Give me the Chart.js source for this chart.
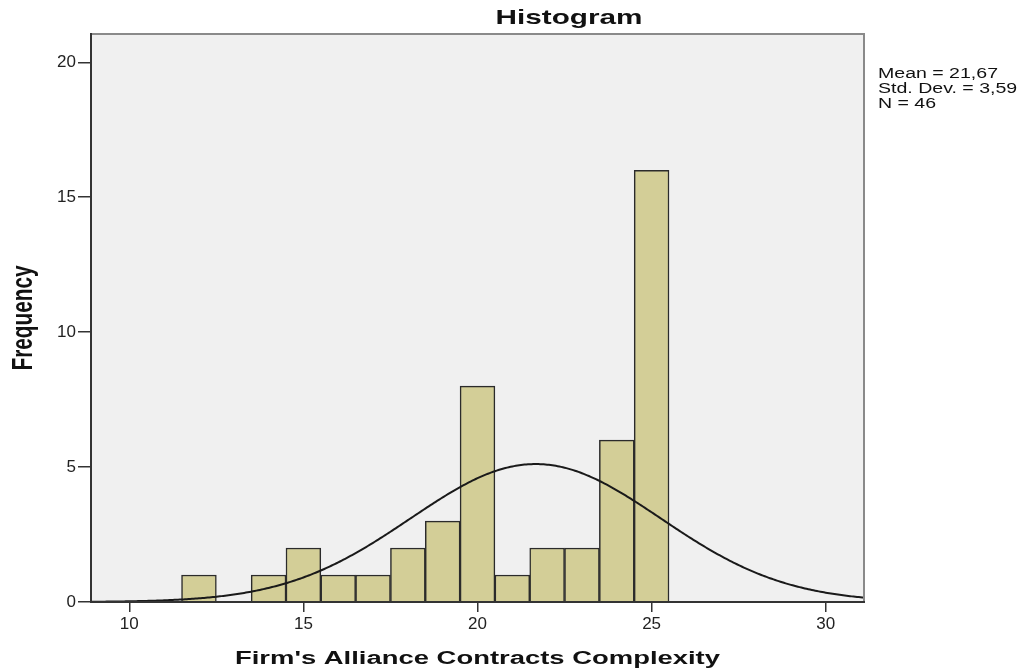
<!DOCTYPE html>
<html>
<head>
<meta charset="utf-8">
<title>Histogram</title>
<script src="https://cdn.jsdelivr.net/npm/chart.js@4.4.1/dist/chart.umd.min.js"></script>
<style>
  html, body { margin: 0; padding: 0; background: #ffffff; }
  #wrap { width: 1024px; height: 671px; }
</style>
</head>
<body>
<div id="wrap"><canvas id="hist" width="1024" height="671"></canvas></div>
<script>
// Histogram bins (bin width 1) and observed frequencies
const BIN_CENTERS = [12, 14, 15, 16, 17, 18, 19, 20, 21, 22, 23, 24, 25];
const FREQUENCIES = [1, 1, 2, 1, 1, 2, 3, 8, 1, 2, 2, 6, 16];
const BIN_WIDTH = 1;

// Axis ticks
const X_TICKS = [10, 15, 20, 25, 30];
const Y_TICKS = [0, 5, 10, 15, 20];

// Summary statistics printed beside the plot
const MEAN = 21.67;
const STD_DEV = 3.59;
const N = 46;
const STAT_LINES = ['Mean = 21,67', 'Std. Dev. = 3,59', 'N = 46'];

const TITLE = 'Histogram';
const X_TITLE = "Firm's Alliance Contracts Complexity";
const Y_TITLE = 'Frequency';

// Axis ranges
const X_MIN = 8.9, X_MAX = 31.1;
const Y_MIN = 0, Y_MAX = 21.05;

// Fitted normal curve, scaled to counts per bin
const curvePoints = [];
for (let x = X_MIN; x <= X_MAX + 1e-9; x += 0.05) {
  const z = (x - MEAN) / STD_DEV;
  const y = N * BIN_WIDTH * Math.exp(-0.5 * z * z) / (STD_DEV * Math.sqrt(2 * Math.PI));
  curvePoints.push({ x: x, y: y });
}
const barPoints = BIN_CENTERS.map((c, i) => ({ x: c, y: FREQUENCIES[i] }));

const FONT = '"Liberation Sans", Arial, Helvetica, sans-serif';
const STRETCH = 1.4;

// Draw text horizontally stretched so it spans the given width
function fitText(ctx, text, font, x, y, width, align) {
  ctx.save();
  ctx.font = font;
  const w = ctx.measureText(text).width;
  const sx = width / w;
  ctx.translate(x, y);
  ctx.scale(sx, 1);
  ctx.textAlign = align;
  ctx.textBaseline = 'alphabetic';
  ctx.fillText(text, 0, 0);
  ctx.restore();
}

const frame = {
  id: 'frame',
  beforeDraw(chart) {
    const { ctx, chartArea: a } = chart;
    ctx.save();
    ctx.fillStyle = '#f0f0f0';
    ctx.fillRect(a.left, a.top, a.right - a.left, a.bottom - a.top);
    ctx.restore();
  },
  afterDraw(chart) {
    const { ctx, chartArea: a } = chart;
    ctx.save();
    // plot frame
    ctx.strokeStyle = '#8a8a8a';
    ctx.lineWidth = 2;
    ctx.beginPath();
    ctx.moveTo(a.left, a.top);
    ctx.lineTo(a.right, a.top);
    ctx.lineTo(a.right, a.bottom);
    ctx.stroke();
    ctx.strokeStyle = '#333333';
    ctx.beginPath();
    ctx.moveTo(a.left, a.top - 1);
    ctx.lineTo(a.left, a.bottom);
    ctx.lineTo(a.right + 1, a.bottom);
    ctx.stroke();

    ctx.fillStyle = '#111111';
    // title
    fitText(ctx, TITLE, 'bold 21px ' + FONT, 569, 24, 147, 'center');
    // x-axis title
    fitText(ctx, X_TITLE, 'bold 18px ' + FONT, 477.5, 664, 485, 'center');
    // y-axis title, rotated
    ctx.save();
    ctx.font = 'bold 21px ' + FONT;
    const fw = ctx.measureText(Y_TITLE).width;
    ctx.translate(24, 318);
    ctx.scale(STRETCH, 1);
    ctx.rotate(-Math.PI / 2);
    ctx.scale(105 / fw, 1);
    ctx.textAlign = 'center';
    ctx.textBaseline = 'middle';
    ctx.fillText(Y_TITLE, 0, 0);
    ctx.restore();
    // statistics
    ctx.font = '14px ' + FONT;
    const sx = 120 / ctx.measureText(STAT_LINES[0]).width;
    STAT_LINES.forEach((t, i) => {
      ctx.save();
      ctx.font = '14px ' + FONT;
      ctx.translate(878, 77.5 + i * 15);
      ctx.scale(sx, 1);
      ctx.textAlign = 'left';
      ctx.fillText(t, 0, 0);
      ctx.restore();
    });
    ctx.restore();
  }
};

new Chart(document.getElementById('hist'), {
  type: 'bar',
  data: {
    datasets: [
      {
        type: 'line',
        data: curvePoints,
        borderColor: '#1a1a1a',
        borderWidth: 2,
        pointRadius: 0,
        tension: 0,
        fill: false,
        order: 0
      },
      {
        type: 'bar',
        data: barPoints,
        backgroundColor: '#d3ce97',
        borderColor: '#2b2b2b',
        borderWidth: 1.5,
        barPercentage: 1,
        categoryPercentage: 1,
        order: 1
      }
    ]
  },
  options: {
    responsive: false,
    animation: false,
    devicePixelRatio: 1,
    layout: { padding: { top: 34, right: 160, left: 0, bottom: 0 } },
    plugins: { legend: { display: false }, tooltip: { enabled: false }, title: { display: false } },
    scales: {
      x: {
        type: 'linear',
        min: X_MIN,
        max: X_MAX,
        offset: false,
        afterBuildTicks(axis) { axis.ticks = X_TICKS.map(v => ({ value: v })); },
        afterFit(axis) { axis.height = 69; },
        grid: { offset: false, drawOnChartArea: false, drawTicks: true, tickLength: 10, color: '#333333', lineWidth: 1.5 },
        border: { display: false },
        ticks: { color: '#222222', font: { family: FONT, size: 17 }, padding: 2, maxRotation: 0, autoSkip: false }
      },
      y: {
        type: 'linear',
        min: Y_MIN,
        max: Y_MAX,
        afterBuildTicks(axis) { axis.ticks = Y_TICKS.map(v => ({ value: v })); },
        afterFit(axis) { axis.width = 91; },
        grid: { drawOnChartArea: false, drawTicks: true, tickLength: 13, color: '#333333', lineWidth: 1.5 },
        border: { display: false },
        ticks: { color: '#222222', font: { family: FONT, size: 17 }, padding: 2 }
      }
    }
  },
  plugins: [frame]
});
</script>
</body>
</html>
